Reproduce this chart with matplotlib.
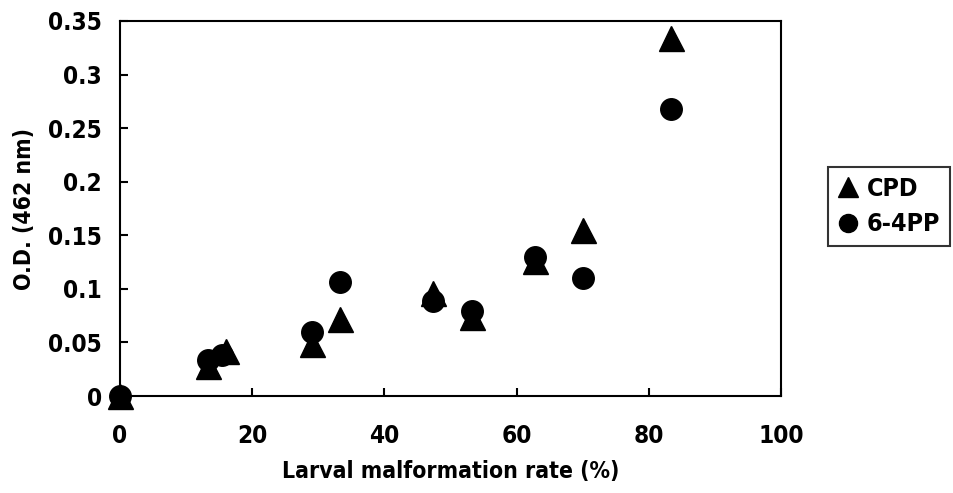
import matplotlib
matplotlib.use("Agg")
import matplotlib.pyplot as plt
from matplotlib.lines import Line2D

malformation_rate = [0, 13.3, 16, 29, 33.3, 47.4, 53.3, 62.8, 70, 83.3]
cpd_od = [0, 0.028, 0.042, 0.049, 0.072, 0.096, 0.074, 0.126, 0.155, 0.334]
pp64_rate = [0, 13.3, 15.5, 29, 33.3, 47.4, 53.3, 62.8, 70, 83.3]
pp64_od = [0, 0.034, 0.038, 0.060, 0.106, 0.089, 0.079, 0.130, 0.110, 0.268]
x_ticks = [0, 20, 40, 60, 80, 100]
y_ticks = [0, 0.05, 0.1, 0.15, 0.2, 0.25, 0.3, 0.35]
y_tick_labels = ["0", "0.05", "0.1", "0.15", "0.2", "0.25", "0.3", "0.35"]

plt.rcParams['font.family'] = ['DejaVu Sans']
plt.rcParams['font.weight'] = 'bold'
plt.rcParams['font.stretch'] = 'condensed'

fig = plt.figure(figsize=(9.54, 4.93), dpi=100)
ax = fig.add_axes([120/954, 1-396/493, (781-120)/954, (396-21)/493])

ax.plot(malformation_rate, cpd_od, linestyle='none', marker='^', markersize=18,
        color='black', clip_on=False, zorder=3)
ax.plot(pp64_rate, pp64_od, linestyle='none', marker='o', markersize=15.5,
        color='black', clip_on=False, zorder=3)

ax.set_xlim(0, 100)
ax.set_ylim(0, 0.35)
ax.set_xticks(x_ticks)
ax.set_xticklabels([str(v) for v in x_ticks])
ax.set_yticks(y_ticks)
ax.set_yticklabels(y_tick_labels)

for s in ax.spines.values():
    s.set_linewidth(1.5)
    s.set_color('black')

ax.tick_params(axis='both', direction='in', length=6, width=1.5, labelsize=17.5)
ax.tick_params(axis='y', pad=13)
ax.tick_params(axis='x', pad=20)
for lbl in ax.get_xticklabels() + ax.get_yticklabels():
    lbl.set_fontweight('bold')

ax.set_xlabel("Larval malformation rate (%)", fontsize=16.5, fontweight='bold', labelpad=9)
ax.set_ylabel("O.D. (462 nm)", fontsize=16.5, fontweight='bold', labelpad=9)

handles = [
    Line2D([], [], linestyle='none', marker='^', markersize=14, color='black'),
    Line2D([], [], linestyle='none', marker='o', markersize=13, color='black'),
]
leg = fig.legend(handles, ["CPD", "6-4PP"], loc='upper left',
                 bbox_to_anchor=(828/954, 1-167/493), frameon=True, fancybox=False,
                 edgecolor='black', prop={'size': 18, 'weight': 'bold', 'stretch': 'condensed'},
                 handlelength=0.8, handletextpad=0.35, borderpad=0.4,
                 labelspacing=0.45, borderaxespad=0)
leg.get_frame().set_linewidth(1.5)

fig.savefig("out.png", dpi=100)
